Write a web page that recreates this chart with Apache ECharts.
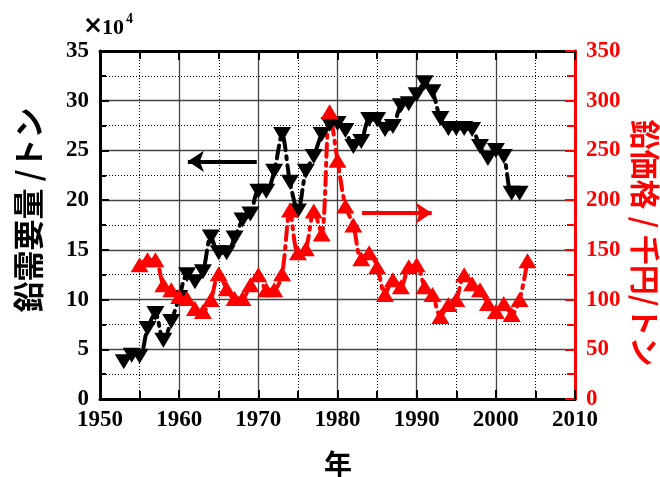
<!DOCTYPE html>
<html>
<head>
<meta charset="utf-8">
<script src="https://cdn.jsdelivr.net/npm/echarts@6/dist/echarts.min.js"></script>
<style>html,body{margin:0;padding:0;background:#fff;}#c{width:660px;height:477px;}</style>
</head>
<body>
<div id="c"></div>
<script>
// Lead demand (×10^4 t), left axis
const demandYears = [1953,1954,1955,1956,1957,1958,1959,1960,1961,1962,1963,1964,1965,1966,1967,1968,1969,1970,1971,1972,1973,1974,1975,1976,1977,1978,1979,1980,1981,1982,1983,1984,1985,1986,1987,1988,1989,1990,1991,1992,1993,1994,1995,1996,1997,1998,1999,2000,2001,2002,2003];
const demandValues = [3.75,4.4,4.3,7.1,8.6,5.9,7.8,10.2,12.5,11.8,12.8,16.3,14.7,14.7,16.2,18.0,18.6,20.9,20.9,22.9,26.6,21.8,18.9,22.9,24.4,26.6,27.6,27.7,27.0,25.4,25.9,28.1,28.1,27.1,27.4,29.5,29.7,30.6,31.8,30.9,28.2,27.2,27.2,27.2,27.1,25.4,24.2,25.0,24.4,20.7,20.7];
// Lead price (千円/t), right axis
const priceYears = [1955,1956,1957,1958,1959,1960,1961,1962,1963,1964,1965,1966,1967,1968,1969,1970,1971,1972,1973,1974,1975,1976,1977,1978,1979,1980,1981,1982,1983,1984,1985,1986,1987,1988,1989,1990,1991,1992,1993,1994,1995,1996,1997,1998,1999,2000,2001,2002,2003,2004];
const priceValues = [135,140,140,115,110,103,101,91,88,100,126,111,101,101,115,125,110,110,126,190,147,151,189,166,289,240,194,175,141,147,133,105,120,113,133,135,113,105,83,95,100,125,116,110,96,88,96,85,100,139];
// Axis ticks
const xTicks = {min:1950, max:2010, interval:10};
const yLeftTicks = {min:0, max:35, interval:5};
const yRightTicks = {min:0, max:350, interval:50};
// Arrow annotations (data coordinates)
const demandArrow = [[1969.8, 23.9],[1961.1, 23.9]];
const priceArrow = [[1983.1, 187],[1991.9, 187]];

const serif = '"Liberation Serif","DejaVu Serif",serif';
const cjk = '"Noto Sans CJK JP","Noto Sans",sans-serif';
const lbl = {fontFamily: serif, fontWeight:'bold', fontSize:23, color:'#000'};

const chart = echarts.init(document.getElementById('c'), null, {renderer:'canvas'});
chart.setOption({
  animation:false,
  backgroundColor:'#fff',
  grid:{left:100, right:85, top:51, bottom:78, containLabel:false},
  xAxis:[{
    type:'value', position:'bottom', min:xTicks.min, max:xTicks.max, interval:xTicks.interval,
    axisLine:{show:true, onZero:false, lineStyle:{color:'#000', width:3}},
    axisTick:{show:true, inside:true, length:9, lineStyle:{color:'#000', width:2}},
    minorTick:{show:true, splitNumber:2, length:8, lineStyle:{color:'#000', width:2}},
    splitLine:{show:true, lineStyle:{color:'#444', width:1.3, type:'solid'}},
    minorSplitLine:{show:true, lineStyle:{color:'#000', width:1, type:[1,2]}},
    axisLabel:Object.assign({margin:10, formatter:v=>String(v)}, lbl)
  },{
    type:'value', position:'top', min:xTicks.min, max:xTicks.max, interval:xTicks.interval,
    axisLine:{show:true, onZero:false, lineStyle:{color:'#000', width:3}},
    axisTick:{show:true, inside:true, length:9, lineStyle:{color:'#000', width:2}},
    minorTick:{show:true, splitNumber:2, length:8, lineStyle:{color:'#000', width:2}},
    splitLine:{show:false}, axisLabel:{show:false}
  }],
  yAxis:[{
    type:'value', position:'left', min:yLeftTicks.min, max:yLeftTicks.max, interval:yLeftTicks.interval,
    axisLine:{show:true, onZero:false, lineStyle:{color:'#000', width:3}},
    axisTick:{show:true, inside:true, length:9, lineStyle:{color:'#000', width:2}},
    minorTick:{show:true, splitNumber:2, length:6, lineStyle:{color:'#000', width:2}},
    splitLine:{show:true, lineStyle:{color:'#444', width:1.3, type:'solid'}},
    minorSplitLine:{show:true, lineStyle:{color:'#000', width:1, type:[1,2]}},
    axisLabel:Object.assign({margin:11}, lbl)
  },{
    type:'value', position:'right', min:yRightTicks.min, max:yRightTicks.max, interval:yRightTicks.interval,
    axisLine:{show:true, onZero:false, lineStyle:{color:'#ff0000', width:3}},
    axisTick:{show:true, inside:true, length:10, lineStyle:{color:'#ff0000', width:2}},
    minorTick:{show:true, splitNumber:2, length:8, lineStyle:{color:'#ff0000', width:2}},
    splitLine:{show:false},
    axisLabel:Object.assign({}, lbl, {margin:11, color:'#ff0000'})
  }],
  series:[{
    type:'line', name:'demand', xAxisIndex:0, yAxisIndex:0,
    data: demandYears.map((y,i)=>[y, demandValues[i]]),
    smooth:0.3, symbol:'triangle', symbolRotate:180, symbolSize:[18,15], showAllSymbol:true,
    itemStyle:{color:'#000'},
    lineStyle:{color:'#000', width:4, type:[13,6,3,6], cap:'round'},
    markLine:{silent:true, symbol:['none','arrow'], symbolSize:16,
      label:{show:false},
      lineStyle:{color:'#000', width:4, type:'solid'},
      data:[[{coord:demandArrow[0]},{coord:demandArrow[1]}]]}
  },{
    type:'line', name:'price', xAxisIndex:0, yAxisIndex:1,
    data: priceYears.map((y,i)=>[y, priceValues[i]]),
    smooth:0.3, symbol:'triangle', symbolSize:[18,15], showAllSymbol:true,
    itemStyle:{color:'#ff0000'},
    lineStyle:{color:'#ff0000', width:4, type:[13,6,3,6], cap:'round'},
    markLine:{silent:true, symbol:['none','arrow'], symbolSize:16,
      label:{show:false},
      lineStyle:{color:'#ff0000', width:4, type:'solid'},
      data:[[{coord:priceArrow[0]},{coord:priceArrow[1]}]]}
  }],
  graphic:[
    {type:'text', x:28, y:210, rotation:Math.PI/2,
      style:{text:'鉛需要量 /トン', font:'bold 31px '+cjk, fill:'#000', align:'center', verticalAlign:'middle', textAlign:'center', textVerticalAlign:'middle'}},
    {type:'text', x:645, y:243, rotation:-Math.PI/2,
      style:{text:'鉛価格 / 千円/トン', font:'bold 30px '+cjk, fill:'#ff0000', align:'center', verticalAlign:'middle', textAlign:'center', textVerticalAlign:'middle'}},
    {type:'text', x:338, y:464,
      style:{text:'年', font:'bold 28px '+cjk, fill:'#000', align:'center', verticalAlign:'middle', textAlign:'center', textVerticalAlign:'middle'}},
    {type:'text', x:93, y:27,
      style:{text:'×', font:'bold 24px "DejaVu Sans",sans-serif', fill:'#000', align:'center', verticalAlign:'middle', textAlign:'center', textVerticalAlign:'middle'}},
    {type:'text', x:102, y:28,
      style:{text:'10', font:'bold 22px '+serif, fill:'#000', align:'left', verticalAlign:'middle', textAlign:'left', textVerticalAlign:'middle'}},
    {type:'text', x:126, y:19,
      style:{text:'4', font:'bold 14px '+serif, fill:'#000', align:'left', verticalAlign:'middle', textAlign:'left', textVerticalAlign:'middle'}}
  ]
});
</script>
</body>
</html>
